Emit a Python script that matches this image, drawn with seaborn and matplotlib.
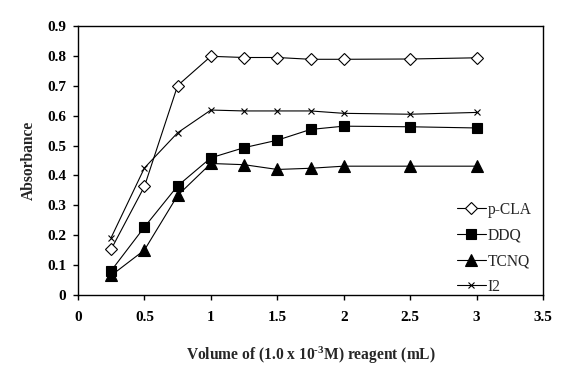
import matplotlib
matplotlib.use("Agg")
import matplotlib.pyplot as plt
import seaborn as sns

# Volume of reagent (mL)
volume = [0.25, 0.5, 0.75, 1.0, 1.25, 1.5, 1.75, 2.0, 2.5, 3.0]

# Absorbance readings per acceptor
p_cla = [0.153, 0.363, 0.701, 0.799, 0.795, 0.795, 0.789, 0.789, 0.790, 0.794]
ddq = [0.081, 0.227, 0.365, 0.459, 0.493, 0.518, 0.554, 0.565, 0.563, 0.559]
tcnq = [0.065, 0.150, 0.333, 0.440, 0.436, 0.420, 0.424, 0.431, 0.431, 0.431]
i2 = [0.192, 0.425, 0.543, 0.619, 0.616, 0.616, 0.616, 0.608, 0.605, 0.611]

series = ["p-CLA", "DDQ", "TCNQ", "I2"]

sns.set_style("ticks")
plt.rcParams["font.family"] = ["Liberation Serif", "DejaVu Serif"]
plt.rcParams["mathtext.fontset"] = "custom"
plt.rcParams["mathtext.rm"] = "Liberation Serif:bold"
plt.rcParams["mathtext.it"] = "Liberation Serif:bold"
plt.rcParams["mathtext.bf"] = "Liberation Serif:bold"

fig = plt.figure(figsize=(5.61, 3.79), dpi=100)
ax = fig.add_axes([0.139, 0.222, 0.829, 0.709])

styles = {
    "p-CLA": dict(marker="D", markersize=6.5, markerfacecolor="white"),
    "DDQ": dict(marker="s", markersize=7.5, markerfacecolor="black"),
    "TCNQ": dict(marker="^", markersize=8, markerfacecolor="black"),
    "I2": dict(marker="x", markersize=5, markerfacecolor="black"),
}
values = {"p-CLA": p_cla, "DDQ": ddq, "TCNQ": tcnq, "I2": i2}

for name in series:
    sns.lineplot(x=volume, y=values[name], ax=ax, color="black", linewidth=0.8,
                 markeredgecolor="black", markeredgewidth=0.8, label=name,
                 **styles[name])

ax.set_xlim(0, 3.5)
ax.set_ylim(0, 0.9)
ax.set_xticks([0, 0.5, 1, 1.5, 2, 2.5, 3, 3.5])
ax.set_xticklabels(["0", "0.5", "1", "1.5", "2", "2.5", "3", "3.5"])
ax.set_yticks([0, 0.1, 0.2, 0.3, 0.4, 0.5, 0.6, 0.7, 0.8, 0.9])
ax.set_yticklabels(["0", "0.1", "0.2", "0.3", "0.4", "0.5", "0.6", "0.7", "0.8", "0.9"])

for s in ax.spines.values():
    s.set_color("black")
    s.set_linewidth(1.0)
ax.tick_params(direction="out", length=3.5, width=1, colors="black", labelsize=11)
ax.tick_params(axis="x", pad=8)
ax.tick_params(axis="y", pad=5)
for lab in ax.get_xticklabels() + ax.get_yticklabels():
    lab.set_fontweight("bold")

ax.set_xlabel(r"Volume of (1.0 x 10$^{\text{-}3}$M) reagent (mL)", fontsize=11.2,
              fontweight="bold", labelpad=15)
ax.set_ylabel("Absorbance", fontsize=11.2, fontweight="bold", labelpad=7)

leg = ax.legend(loc="lower right", bbox_to_anchor=(0.975, 0.0), frameon=False,
                fontsize=11.2, handlelength=1.85, handletextpad=0.12,
                labelspacing=0.62, borderaxespad=0.0, borderpad=0.0)

fig.savefig("out.png", dpi=100, facecolor="white")
